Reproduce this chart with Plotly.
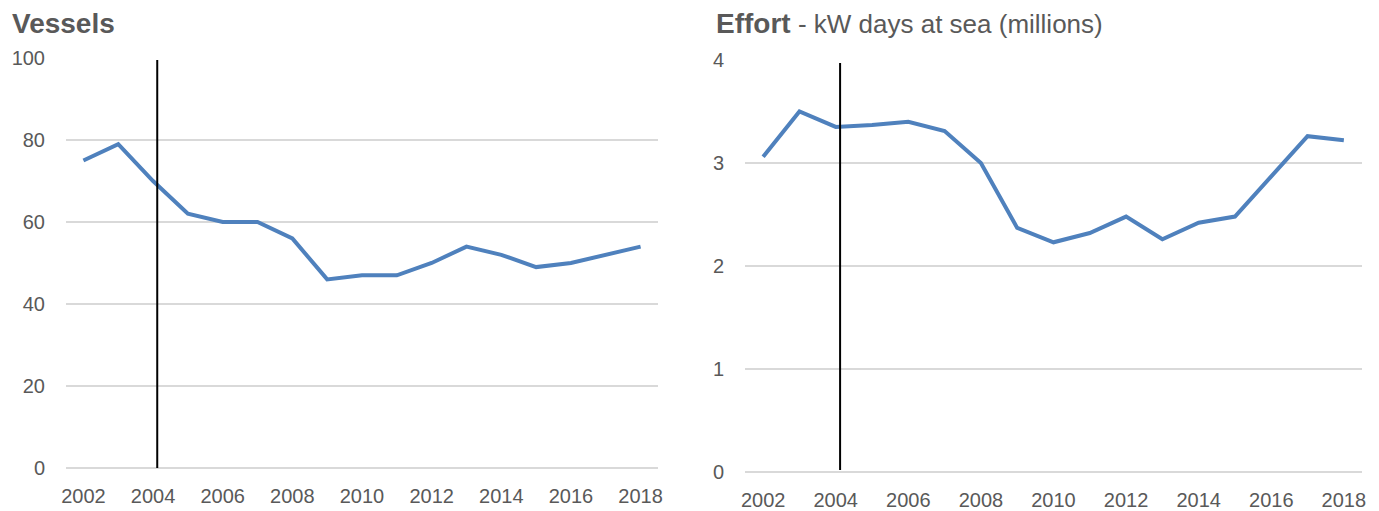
import plotly.graph_objects as go
from plotly.subplots import make_subplots

years = list(range(2002, 2019))
vessels = [75, 79, 70, 62, 60, 60, 56, 46, 47, 47, 50, 54, 52, 49, 50, 52, 54]
effort = [3.06, 3.5, 3.35, 3.37, 3.40, 3.31, 3.0, 2.37, 2.23, 2.32, 2.48, 2.26, 2.42, 2.48, 2.87, 3.26, 3.22]
tick_years = list(range(2002, 2019, 2))
vessel_ticks = [0, 20, 40, 60, 80, 100]
effort_ticks = [0, 1, 2, 3, 4]
marker_year = 2004.12

LINE = "#4F81BD"
GRID = "#D9D9D9"
TEXT = "#595959"
FONT = "Liberation Sans, Arial, sans-serif"

# page body has an 8px margin, so the figure is placed at (8, 8)
OFF = 8
W, H = 1379 - OFF, 511 - OFF


def px(x):
    return (x - OFF) / W


def py(y):
    return 1 - (y - OFF) / H


fig = make_subplots(rows=1, cols=2)
fig.add_trace(go.Scatter(x=years, y=vessels, mode="lines",
                         line=dict(color=LINE, width=4), showlegend=False), row=1, col=1)
fig.add_trace(go.Scatter(x=years, y=effort, mode="lines",
                         line=dict(color=LINE, width=4), showlegend=False), row=1, col=2)

xcommon = dict(range=[2001.5, 2018.5], tickvals=tick_years, showgrid=False, zeroline=False,
               showline=False, ticks="", ticklabelstandoff=14, automargin=False,
               tickfont=dict(size=20, color=TEXT, family=FONT))
ycommon = dict(showgrid=True, gridcolor=GRID, gridwidth=1.5, zeroline=True, zerolinecolor=GRID,
               zerolinewidth=1.5, showline=False, ticks="", ticklabelstandoff=20, automargin=False,
               tickfont=dict(size=20, color=TEXT, family=FONT))

fig.update_xaxes(**xcommon)
fig.update_yaxes(**ycommon)
fig.update_layout(
    xaxis=dict(domain=[px(66), px(658)]),
    xaxis2=dict(domain=[px(745), px(1362)]),
    yaxis=dict(domain=[py(468), py(58)], range=[0, 100], tickvals=vessel_ticks),
    yaxis2=dict(domain=[py(472), py(60)], range=[0, 4], tickvals=effort_ticks),
)

fig.add_shape(type="line", xref="x", yref="y", x0=marker_year, x1=marker_year, y0=0, y1=99.5,
              line=dict(color="black", width=2))
fig.add_shape(type="line", xref="x2", yref="y2", x0=marker_year, x1=marker_year, y0=0.02, y1=3.97,
              line=dict(color="black", width=2))

fig.add_annotation(xref="paper", yref="paper", x=px(10), y=py(24), xanchor="left",
                   yanchor="middle", showarrow=False, text="<b>Vessels</b>",
                   font=dict(size=28, color=TEXT, family=FONT))
fig.add_annotation(xref="paper", yref="paper", x=px(714), y=py(24), xanchor="left",
                   yanchor="middle", showarrow=False,
                   text="<b>Effort</b><span style='font-size:26px'> - kW days at sea (millions)</span>",
                   font=dict(size=28, color=TEXT, family=FONT))

fig.update_layout(width=W, height=H, margin=dict(l=0, r=0, t=0, b=0),
                  plot_bgcolor="white", paper_bgcolor="white")

fig.write_html("out.html")
